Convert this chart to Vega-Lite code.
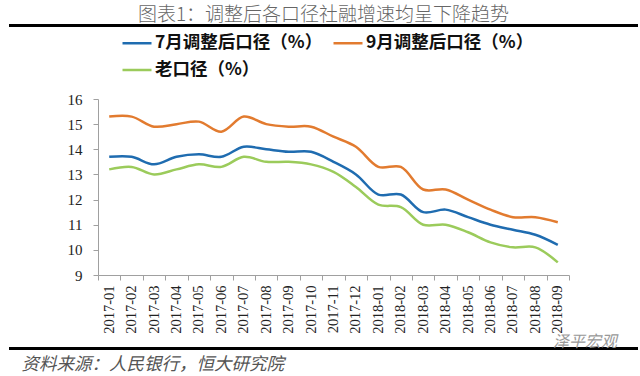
{
  "$schema": "https://vega.github.io/schema/vega-lite/v6.json",
  "padding": {"left": 2, "top": 4, "right": 5, "bottom": 0},
  "autosize": {"type": "pad"},
  "background": "white",
  "bounds": "flush",
  "spacing": 73,
  "config": {"view": {"stroke": null}},
  "data": {"values": [
    {"month": "2017-01", "series": "7月调整后口径（%）", "value": 13.7},
    {"month": "2017-02", "series": "7月调整后口径（%）", "value": 13.7},
    {"month": "2017-03", "series": "7月调整后口径（%）", "value": 13.4},
    {"month": "2017-04", "series": "7月调整后口径（%）", "value": 13.7},
    {"month": "2017-05", "series": "7月调整后口径（%）", "value": 13.8},
    {"month": "2017-06", "series": "7月调整后口径（%）", "value": 13.7},
    {"month": "2017-07", "series": "7月调整后口径（%）", "value": 14.1},
    {"month": "2017-08", "series": "7月调整后口径（%）", "value": 14.0},
    {"month": "2017-09", "series": "7月调整后口径（%）", "value": 13.9},
    {"month": "2017-10", "series": "7月调整后口径（%）", "value": 13.9},
    {"month": "2017-11", "series": "7月调整后口径（%）", "value": 13.5},
    {"month": "2017-12", "series": "7月调整后口径（%）", "value": 13.0},
    {"month": "2018-01", "series": "7月调整后口径（%）", "value": 12.2},
    {"month": "2018-02", "series": "7月调整后口径（%）", "value": 12.2},
    {"month": "2018-03", "series": "7月调整后口径（%）", "value": 11.5},
    {"month": "2018-04", "series": "7月调整后口径（%）", "value": 11.6},
    {"month": "2018-05", "series": "7月调整后口径（%）", "value": 11.3},
    {"month": "2018-06", "series": "7月调整后口径（%）", "value": 11.0},
    {"month": "2018-07", "series": "7月调整后口径（%）", "value": 10.8},
    {"month": "2018-08", "series": "7月调整后口径（%）", "value": 10.6},
    {"month": "2018-09", "series": "7月调整后口径（%）", "value": 10.2},
    {"month": "2017-01", "series": "9月调整后口径（%）", "value": 15.3},
    {"month": "2017-02", "series": "9月调整后口径（%）", "value": 15.3},
    {"month": "2017-03", "series": "9月调整后口径（%）", "value": 14.9},
    {"month": "2017-04", "series": "9月调整后口径（%）", "value": 15.0},
    {"month": "2017-05", "series": "9月调整后口径（%）", "value": 15.1},
    {"month": "2017-06", "series": "9月调整后口径（%）", "value": 14.7},
    {"month": "2017-07", "series": "9月调整后口径（%）", "value": 15.3},
    {"month": "2017-08", "series": "9月调整后口径（%）", "value": 15.0},
    {"month": "2017-09", "series": "9月调整后口径（%）", "value": 14.9},
    {"month": "2017-10", "series": "9月调整后口径（%）", "value": 14.9},
    {"month": "2017-11", "series": "9月调整后口径（%）", "value": 14.5},
    {"month": "2017-12", "series": "9月调整后口径（%）", "value": 14.1},
    {"month": "2018-01", "series": "9月调整后口径（%）", "value": 13.3},
    {"month": "2018-02", "series": "9月调整后口径（%）", "value": 13.3},
    {"month": "2018-03", "series": "9月调整后口径（%）", "value": 12.4},
    {"month": "2018-04", "series": "9月调整后口径（%）", "value": 12.4},
    {"month": "2018-05", "series": "9月调整后口径（%）", "value": 12.0},
    {"month": "2018-06", "series": "9月调整后口径（%）", "value": 11.6},
    {"month": "2018-07", "series": "9月调整后口径（%）", "value": 11.3},
    {"month": "2018-08", "series": "9月调整后口径（%）", "value": 11.3},
    {"month": "2018-09", "series": "9月调整后口径（%）", "value": 11.1},
    {"month": "2017-01", "series": "老口径（%）", "value": 13.2},
    {"month": "2017-02", "series": "老口径（%）", "value": 13.3},
    {"month": "2017-03", "series": "老口径（%）", "value": 13.0},
    {"month": "2017-04", "series": "老口径（%）", "value": 13.2},
    {"month": "2017-05", "series": "老口径（%）", "value": 13.4},
    {"month": "2017-06", "series": "老口径（%）", "value": 13.3},
    {"month": "2017-07", "series": "老口径（%）", "value": 13.7},
    {"month": "2017-08", "series": "老口径（%）", "value": 13.5},
    {"month": "2017-09", "series": "老口径（%）", "value": 13.5},
    {"month": "2017-10", "series": "老口径（%）", "value": 13.4},
    {"month": "2017-11", "series": "老口径（%）", "value": 13.1},
    {"month": "2017-12", "series": "老口径（%）", "value": 12.5},
    {"month": "2018-01", "series": "老口径（%）", "value": 11.8},
    {"month": "2018-02", "series": "老口径（%）", "value": 11.7},
    {"month": "2018-03", "series": "老口径（%）", "value": 11.0},
    {"month": "2018-04", "series": "老口径（%）", "value": 11.0},
    {"month": "2018-05", "series": "老口径（%）", "value": 10.7},
    {"month": "2018-06", "series": "老口径（%）", "value": 10.3},
    {"month": "2018-07", "series": "老口径（%）", "value": 10.1},
    {"month": "2018-08", "series": "老口径（%）", "value": 10.1},
    {"month": "2018-09", "series": "老口径（%）", "value": 9.5}
  ]},
  "vconcat": [
    {
      "width": 627,
      "height": 1,
      "view": {"stroke": "#000", "strokeWidth": 2, "fill": "#000"},
      "title": {"text": "图表1：调整后各口径社融增速均呈下降趋势", "orient": "top", "anchor": "middle", "baseline": "middle", "offset": -9, "font": "Noto Sans CJK SC", "fontSize": 19, "fontWeight": 300, "color": "#666"},
      "mark": {"type": "rule", "opacity": 0},
      "encoding": {}
    },
    {
      "width": 559,
      "height": 176,
      "mark": {"type": "line", "interpolate": "catmull-rom", "strokeWidth": 2.5},
      "encoding": {
        "x": {
          "field": "month", "type": "ordinal",
          "scale": {"type": "band", "paddingInner": 0, "paddingOuter": 0, "range": [88, 559]},
          "bandPosition": 0.5,
          "axis": {
            "title": "资料来源：人民银行，恒大研究院",
            "titleX": 11, "titleY": 89, "titleAlign": "left", "titleAngle": 0, "titleBaseline": "middle",
            "titleFont": "Noto Sans CJK SC", "titleFontSize": 17.5, "titleFontStyle": "italic", "titleFontWeight": "normal", "titleColor": "#555",
            "labelAngle": -90, "labelFont": "Liberation Serif", "labelFontSize": 14.5, "labelColor": "#222",
            "labelPadding": 5, "tickSize": 5, "tickColor": "#a0a0a0", "domainColor": "#a0a0a0",
            "tickBand": "extent", "grid": false
          }
        },
        "y": {
          "field": "value", "type": "quantitative",
          "scale": {"domain": [9, 16], "nice": false, "zero": false},
          "axis": {
            "title": null, "values": [9, 10, 11, 12, 13, 14, 15, 16], "offset": -88,
            "labelFont": "Liberation Serif", "labelFontSize": 15, "labelColor": "#222", "labelPadding": 11,
            "tickSize": 5, "tickColor": "#a0a0a0", "domainColor": "#a0a0a0", "grid": false
          }
        },
        "color": {
          "field": "series", "type": "nominal",
          "scale": {"domain": ["7月调整后口径（%）", "9月调整后口径（%）", "老口径（%）"], "range": ["#1f6cb0", "#e27b2f", "#9bcb5b"]},
          "legend": {
            "orient": "none", "direction": "horizontal", "legendX": 111, "legendY": 2, "columns": 2, "title": null,
            "symbolType": "stroke", "symbolSize": 841, "symbolStrokeWidth": 2.5,
            "labelFont": "Noto Sans CJK SC", "labelFontSize": 17.5, "labelFontWeight": "bold", "labelColor": "#111",
            "labelOffset": 2, "columnPadding": 5, "rowPadding": 2, "labelLimit": 300
          }
        }
      }
    },
    {
      "width": 627,
      "height": 1,
      "view": {"stroke": "#000", "strokeWidth": 2, "fill": "#000"},
      "title": {"text": "泽平宏观", "orient": "top", "anchor": "end", "baseline": "middle", "offset": -10, "dx": -20, "font": "Noto Sans CJK SC", "fontSize": 16, "fontStyle": "italic", "fontWeight": "normal", "color": "#999"},
      "mark": {"type": "rule", "opacity": 0},
      "encoding": {}
    }
  ]
}
